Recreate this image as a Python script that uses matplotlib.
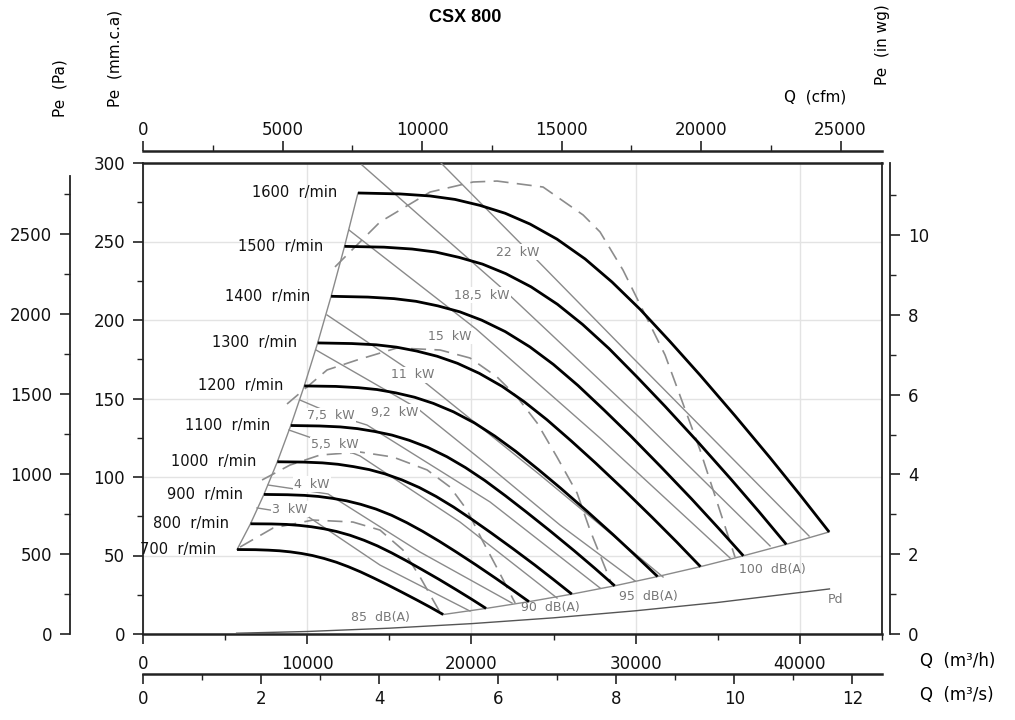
import matplotlib
matplotlib.use("Agg")
import matplotlib.pyplot as plt
from matplotlib.ticker import MultipleLocator

plt.rcParams['font.family'] = ['DejaVu Sans']

# ---------------- data ----------------
title = "CSX 800"
speeds = [700, 800, 900, 1000, 1100, 1200, 1300, 1400, 1500, 1600]

# fan curves: Q (m3/h), Pe (mm.c.a)
q_700 = [5727, 6847, 7648, 8313, 8978, 9647, 10312, 11029, 11778, 12495, 13243, 14039, 14840, 15772, 16704, 17504, 18279]
p_700 = [53.8, 53.7, 53.4, 53.0, 52.3, 51.3, 50.0, 48.1, 45.7, 42.9, 39.6, 35.7, 31.6, 26.6, 21.5, 17.0, 12.4]
q_800 = [6545, 7825, 8740, 9500, 10260, 11025, 11785, 12605, 13460, 14280, 15135, 16045, 16960, 18025, 19090, 20005, 20890]
p_800 = [70.2, 70.1, 69.8, 69.2, 68.3, 67.0, 65.3, 62.9, 59.7, 56.1, 51.7, 46.6, 41.2, 34.8, 28.1, 22.2, 16.3]
q_900 = [7363, 8803, 9833, 10688, 11543, 12403, 13258, 14181, 15143, 16065, 17027, 18051, 19080, 20278, 21476, 22506, 23501]
p_900 = [88.9, 88.7, 88.3, 87.6, 86.4, 84.8, 82.6, 79.6, 75.6, 70.9, 65.4, 59.0, 52.2, 44.0, 35.5, 28.0, 20.6]
q_1000 = [8181, 9781, 10925, 11875, 12825, 13781, 14731, 15756, 16825, 17850, 18919, 20056, 21200, 22531, 23863, 25006, 26113]
p_1000 = [109.7, 109.5, 109.0, 108.1, 106.6, 104.7, 102.0, 98.2, 93.3, 87.6, 80.8, 72.8, 64.4, 54.3, 43.9, 34.6, 25.4]
q_1100 = [8999, 10759, 12018, 13063, 14108, 15159, 16204, 17332, 18508, 19635, 20811, 22062, 23320, 24784, 26249, 27507, 28724]
p_1100 = [132.8, 132.5, 131.9, 130.8, 129.0, 126.7, 123.4, 118.9, 112.9, 106.0, 97.8, 88.1, 77.9, 65.7, 53.1, 41.9, 30.7]
q_1200 = [9818, 11738, 13110, 14250, 15390, 16538, 17678, 18908, 20190, 21420, 22703, 24068, 25440, 27038, 28635, 30008, 31335]
p_1200 = [158.0, 157.7, 156.9, 155.7, 153.6, 150.8, 146.9, 141.5, 134.4, 126.1, 116.3, 104.8, 92.8, 78.2, 63.2, 49.8, 36.6]
q_1300 = [10636, 12716, 14203, 15438, 16673, 17916, 19151, 20483, 21873, 23205, 24594, 26073, 27560, 29291, 31021, 32508, 33946]
p_1300 = [185.4, 185.0, 184.2, 182.7, 180.2, 176.9, 172.4, 166.0, 157.7, 148.0, 136.5, 123.0, 108.9, 91.8, 74.1, 58.5, 42.9]
q_1400 = [11454, 13694, 15295, 16625, 17955, 19294, 20624, 22059, 23555, 24990, 26486, 28079, 29680, 31544, 33408, 35009, 36558]
p_1400 = [215.1, 214.6, 213.6, 211.9, 209.0, 205.2, 199.9, 192.6, 182.9, 171.7, 158.3, 142.6, 126.3, 106.4, 86.0, 67.8, 49.8]
q_1500 = [12272, 14672, 16388, 17813, 19238, 20672, 22097, 23634, 25238, 26775, 28378, 30084, 31800, 33797, 35794, 37509, 39169]
p_1500 = [246.9, 246.4, 245.2, 243.3, 239.9, 235.6, 229.5, 221.1, 210.0, 197.1, 181.8, 163.7, 144.9, 122.2, 98.7, 77.9, 57.1]
q_1600 = [13090, 15650, 17480, 19000, 20520, 22050, 23570, 25210, 26920, 28560, 30270, 32090, 33920, 36050, 38180, 40010, 41780]
p_1600 = [280.9, 280.3, 279.0, 276.8, 273.0, 268.0, 261.1, 251.5, 238.9, 224.2, 206.8, 186.3, 164.9, 139.0, 112.3, 88.6, 65.0]

speed_q = [q_700, q_800, q_900, q_1000, q_1100, q_1200, q_1300, q_1400, q_1500, q_1600]
speed_p = [p_700, p_800, p_900, p_1000, p_1100, p_1200, p_1300, p_1400, p_1500, p_1600]

# iso-power lines (kW)
kw_names = ["22  kW", "18,5  kW", "15  kW", "11  kW", "9,2  kW", "7,5  kW", "5,5  kW", "4  kW", "3  kW"]
kw_q = [
    [18148, 23386, 29658, 40559],
    [13337, 22046, 30267, 38184],
    [12545, 20280, 27831, 35748],
    [11206, 16382, 24177, 31668],
    [10536, 16687, 21132, 25395, 29963],
    [9561, 11693, 13642, 21132, 27831],
    [8891, 11693, 13215, 19305, 25213],
    [7613, 11267, 16869, 22472],
    [6943, 9988, 14433, 19914],
]
kw_p = [
    [300.0, 244.6, 177.7, 62.4],
    [298.7, 218.5, 137.6, 56.1],
    [257.3, 194.3, 124.8, 48.4],
    [203.2, 166.9, 101.3, 36.3],
    [180.9, 143.9, 106.4, 69.4, 33.8],
    [149.0, 139.5, 133.1, 84.1, 29.3],
    [129.9, 119.7, 113.4, 71.3, 22.9],
    [94.9, 89.2, 52.2, 19.7],
    [80.3, 75.2, 43.9, 14.6],
]
kw_label_q = [22840, 20650, 18700, 16440, 15350, 11450, 11690, 10290, 8950]
kw_label_p = [243.3, 215.9, 189.8, 165.0, 141.4, 138.9, 120.4, 95.5, 79.6]

# dashed iso-efficiency loops
eff_q = [
    [11690, 14430, 17480, 20100, 21560, 24360, 26800, 27830, 29230, 31790, 33920, 36050],
    [8770, 11210, 13030, 15470, 18090, 19910, 21560, 22780, 24000, 25210, 26430, 27220, 28560],
    [7250, 8950, 10780, 13220, 15230, 17300, 18700, 19730, 20650, 21560, 22660],
    [5910, 7920, 10350, 12790, 14430, 15830, 16870, 17660, 18150],
]
eff_p = [
    [233.8, 262.4, 281.5, 287.9, 288.5, 284.7, 266.9, 256.1, 231.8, 177.7, 117.2, 49.0],
    [146.5, 168.2, 174.5, 182.2, 180.9, 175.8, 163.7, 151.0, 134.4, 112.7, 89.8, 66.2, 31.2],
    [98.1, 107.6, 114.0, 115.9, 112.7, 104.5, 93.6, 79.0, 59.9, 42.0, 19.7],
    [55.4, 67.5, 72.6, 71.3, 66.2, 53.5, 36.3, 21.7, 12.7],
]

# dynamic pressure curve
pd_q = [5700, 10000, 15000, 20000, 25000, 30000, 35000, 41800]
pd_p = [0.5, 1.6, 3.7, 6.6, 10.3, 14.8, 20.1, 28.7]

db_names = ["85  dB(A)", "90  dB(A)", "95  dB(A)", "100  dB(A)"]
db_label_q = [14430, 24790, 30760, 38310]
db_label_p = [10.2, 16.6, 23.6, 41.4]

# ---------------- figure ----------------
W, H = 1015, 720
fig = plt.figure(figsize=(W / 100, H / 100), dpi=100)
ax = fig.add_axes([143 / W, 1 - 634 / H, 739 / W, 471 / H])
ax.set_xlim(0, 45000)
ax.set_ylim(0, 300)

grid_c = "#e3e3e3"
ax.xaxis.set_major_locator(MultipleLocator(10000))
ax.xaxis.set_minor_locator(MultipleLocator(5000))
ax.yaxis.set_major_locator(MultipleLocator(50))
ax.yaxis.set_minor_locator(MultipleLocator(25))
ax.grid(True, which="major", color=grid_c, lw=1.0, zorder=0)
for s in ax.spines.values():
    s.set_linewidth(1.3)
    s.set_color("#222222")
ax.spines["top"].set_linewidth(1.8)
ax.spines["bottom"].set_linewidth(1.8)
tick_kw = dict(direction="out", colors="#222222", labelsize=12, labelcolor="#111111")
ax.tick_params(axis="both", which="major", length=7, width=1.2, pad=8, **tick_kw)
ax.tick_params(axis="both", which="minor", length=4, width=1.0, **tick_kw)
ax.tick_params(axis="y", which="major", pad=6)

# secondary axes
cfm = ax.secondary_xaxis(1 + 12 / 471, functions=(lambda q: q * 0.588578, lambda c: c / 0.588578))
cfm.xaxis.set_major_locator(MultipleLocator(5000))
cfm.xaxis.set_minor_locator(MultipleLocator(2500))
cfm.tick_params(which="major", length=7, width=1.2, pad=1.5, **tick_kw)
cfm.tick_params(which="minor", length=4, width=1.0, **tick_kw)
for s in cfm.spines.values():
    s.set_linewidth(1.8)
    s.set_color("#222222")

m3s = ax.secondary_xaxis(-40 / 471, functions=(lambda q: q / 3600.0, lambda s: s * 3600.0))
m3s.xaxis.set_major_locator(MultipleLocator(2))
m3s.xaxis.set_minor_locator(MultipleLocator(1))
m3s.tick_params(which="major", length=7, width=1.2, pad=4.5, **tick_kw)
m3s.tick_params(which="minor", length=4, width=1.0, **tick_kw)
for s in m3s.spines.values():
    s.set_linewidth(1.8)
    s.set_color("#222222")

pa = ax.secondary_yaxis(-73 / 739, functions=(lambda m: m * 9.80665, lambda p: p / 9.80665))
pa.yaxis.set_major_locator(MultipleLocator(500))
pa.yaxis.set_minor_locator(MultipleLocator(250))
pa.tick_params(which="major", length=7, width=1.2, pad=6, **tick_kw)
pa.tick_params(which="minor", length=4, width=1.0, **tick_kw)
for s in pa.spines.values():
    s.set_linewidth(1.3)
    s.set_color("#222222")
pa.spines["left"].set_bounds(0, 2860)

inwg = ax.secondary_yaxis(1 + 8 / 739, functions=(lambda m: m / 25.4, lambda w: w * 25.4))
inwg.yaxis.set_major_locator(MultipleLocator(2))
inwg.yaxis.set_minor_locator(MultipleLocator(1))
inwg.tick_params(which="major", length=7, width=1.2, pad=6, **tick_kw)
inwg.tick_params(which="minor", length=4, width=1.0, **tick_kw)
for s in inwg.spines.values():
    s.set_linewidth(1.3)
    s.set_color("#222222")

gray = "#8a8a8a"
label_gray = "#777777"
# dashed efficiency loops
for q, p in zip(eff_q, eff_p):
    ax.plot(q, p, color="#8c8c8c", lw=1.2, dashes=(9, 5), zorder=2)

# iso power lines
for q, p in zip(kw_q, kw_p):
    ax.plot(q, p, color=gray, lw=1.0, zorder=3, solid_joinstyle="round")
for name, q, p in zip(kw_names, kw_label_q, kw_label_p):
    ax.text(q, p, name, color=label_gray, fontsize=9, ha="center", va="center", zorder=3.5,
            bbox=dict(facecolor="white", edgecolor="none", pad=0.8))

# boundaries
ax.plot([c[0] for c in speed_q], [c[0] for c in speed_p], color=gray, lw=1.0, zorder=3)
ax.plot([c[-1] for c in speed_q], [c[-1] for c in speed_p], color=gray, lw=1.0, zorder=3)

# Pd curve
ax.plot(pd_q, pd_p, color="#555555", lw=1.0, zorder=3)
ax.text(42140, 21.7, "Pd", color=label_gray, fontsize=9, ha="center", va="center")

for name, q, p in zip(db_names, db_label_q, db_label_p):
    ax.text(q, p, name, color=label_gray, fontsize=9, ha="center", va="center")

# speed curves
for n, q, p in zip(speeds, speed_q, speed_p):
    ax.plot(q, p, color="black", lw=2.0, zorder=4, solid_joinstyle="round", solid_capstyle="butt")
    ax.annotate(f"{n}  r/min", xy=(q[0], p[0]), xytext=(-21, 0), textcoords="offset pixels",
                ha="right", va="center", fontsize=10.5, color="#111111")

# labels
fig.text(465 / W, 1 - 18 / H, title, ha="center", va="center", fontsize=13,
         fontweight="bold", family="Liberation Sans")
fig.text(60 / W, 1 - 88 / H, "Pe  (Pa)", rotation=90, ha="center", va="center", fontsize=11)
fig.text(115 / W, 1 - 58 / H, "Pe  (mm.c.a)", rotation=90, ha="center", va="center", fontsize=11)
fig.text(883 / W, 1 - 45 / H, "Pe  (in wg)", rotation=90, ha="center", va="center", fontsize=11)
fig.text(815 / W, 1 - 97 / H, "Q  (cfm)", ha="center", va="center", fontsize=11)
fig.text(920 / W, 1 - 661 / H, "Q  (m³/h)", ha="left", va="center", fontsize=12)
fig.text(920 / W, 1 - 695 / H, "Q  (m³/s)", ha="left", va="center", fontsize=12)

fig.savefig("out.png", dpi=100, facecolor="white")
